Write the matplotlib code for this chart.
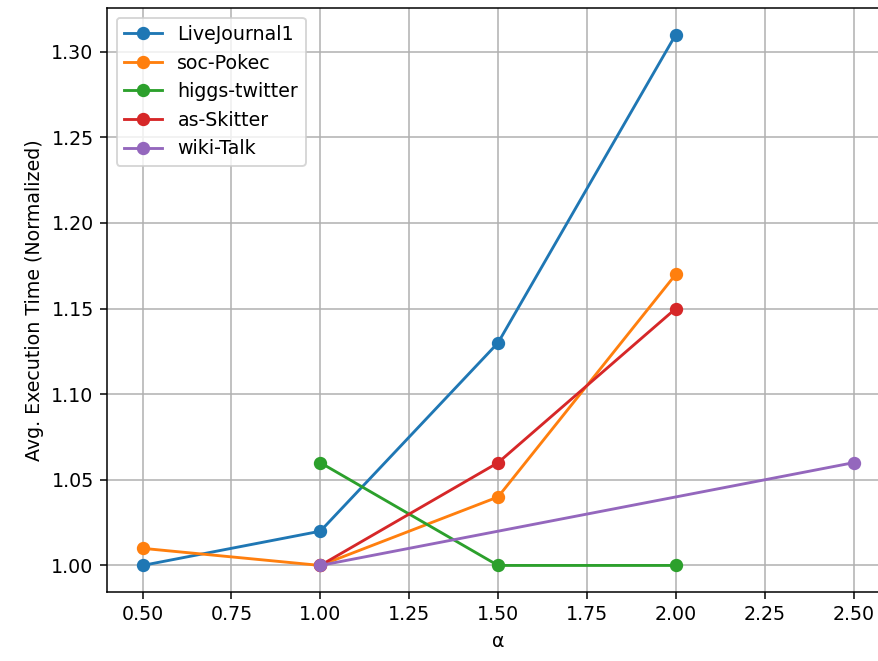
import matplotlib
matplotlib.use("Agg")
import matplotlib.pyplot as plt

alpha_lj = [0.5, 1.0, 1.5, 2.0]
time_lj = [1.00, 1.02, 1.13, 1.31]
alpha_pokec = [0.5, 1.0, 1.5, 2.0]
time_pokec = [1.01, 1.00, 1.04, 1.17]
alpha_higgs = [1.0, 1.5, 2.0]
time_higgs = [1.06, 1.00, 1.00]
alpha_skitter = [1.0, 1.5, 2.0]
time_skitter = [1.00, 1.06, 1.15]
alpha_wiki = [1.0, 2.5]
time_wiki = [1.00, 1.06]

dpi = 137
fig = plt.figure(figsize=(878 / dpi, 661 / dpi), dpi=dpi)
# axes run a little past the right edge of the canvas
ax = fig.add_axes([0.1219, 0.1044, 0.8907, 0.8835])

ax.plot(alpha_lj, time_lj, marker='o', label='LiveJournal1')
ax.plot(alpha_pokec, time_pokec, marker='o', label='soc-Pokec')
ax.plot(alpha_higgs, time_higgs, marker='o', label='higgs-twitter')
ax.plot(alpha_skitter, time_skitter, marker='o', label='as-Skitter')
ax.plot(alpha_wiki, time_wiki, marker='o', label='wiki-Talk')

ax.set_xlabel('α')
ax.set_ylabel('Avg. Execution Time (Normalized)')
ax.grid(True)
ax.legend(loc='upper left')
fig.savefig('out.png', dpi=dpi)
